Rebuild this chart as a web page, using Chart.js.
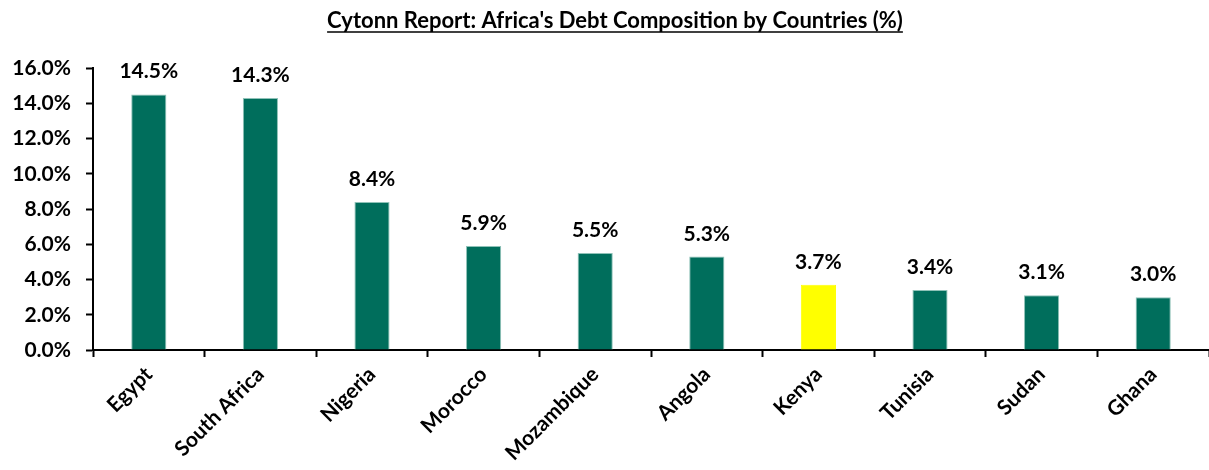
<!DOCTYPE html>
<html>
<head>
<meta charset="utf-8">
<script src="https://cdn.jsdelivr.net/npm/chart.js@4"></script>
<style>
  html, body { margin: 0; padding: 0; background: #ffffff; }
  #wrap { width: 1209px; height: 470px; position: relative; }
</style>
</head>
<body>
<div id="wrap"><canvas id="chart" width="1209" height="470"></canvas></div>
<script>
const chartTitle = "Cytonn Report: Africa's Debt Composition by Countries (%)";
const countries = ["Egypt", "South Africa", "Nigeria", "Morocco", "Mozambique", "Angola", "Kenya", "Tunisia", "Sudan", "Ghana"];
const debtShare = [14.5, 14.3, 8.4, 5.9, 5.5, 5.3, 3.7, 3.4, 3.1, 3.0];
const highlighted = "Kenya";

const FONT = "Lato, 'Open Sans', 'Liberation Sans', sans-serif";
const TEAL = "#006E5C";
const YELLOW = "#FFFF00";

// Underlined bold heading drawn across the top of the canvas
const headingPlugin = {
  id: "heading",
  afterDraw(chart) {
    const ctx = chart.ctx;
    ctx.save();
    ctx.font = "bold 22px " + FONT;
    ctx.fillStyle = "#000";
    ctx.textAlign = "center";
    ctx.textBaseline = "alphabetic";
    const cx = 615, base = 28;
    ctx.fillText(chartTitle, cx, base);
    const w = ctx.measureText(chartTitle).width;
    ctx.strokeStyle = "#000";
    ctx.lineWidth = 1.5;
    ctx.beginPath();
    ctx.moveTo(cx - w / 2, base + 4);
    ctx.lineTo(cx + w / 2, base + 4);
    ctx.stroke();
    ctx.restore();
  }
};

// Percentage value printed above each bar
const valueLabelPlugin = {
  id: "valueLabels",
  afterDatasetsDraw(chart) {
    const ctx = chart.ctx;
    const meta = chart.getDatasetMeta(0);
    ctx.save();
    ctx.font = "bold 21px " + FONT;
    ctx.fillStyle = "#000";
    ctx.textAlign = "center";
    ctx.textBaseline = "alphabetic";
    meta.data.forEach((bar, i) => {
      ctx.fillText(debtShare[i].toFixed(1) + "%", bar.x, bar.y - 16);
    });
    ctx.restore();
  }
};

new Chart(document.getElementById("chart"), {
  type: "bar",
  data: {
    labels: countries,
    datasets: [{
      data: debtShare,
      backgroundColor: countries.map(c => c === highlighted ? YELLOW : TEAL),
      borderColor: countries.map(c => c === highlighted ? YELLOW : "#8fc2b8"),
      borderWidth: 1,
      categoryPercentage: 1,
      barPercentage: 0.315
    }]
  },
  options: {
    responsive: false,
    animation: false,
    devicePixelRatio: 1,
    layout: { padding: { top: 68, right: 0, left: 0, bottom: 0 } },
    plugins: {
      legend: { display: false },
      title: { display: false },
      tooltip: { enabled: false }
    },
    scales: {
      x: {
        offset: true,
        grid: {
          display: true,
          offset: true,
          drawOnChartArea: false,
          drawTicks: true,
          tickLength: 7,
          tickColor: "#000",
          tickWidth: 2
        },
        border: { display: true, color: "#000", width: 2 },
        ticks: {
          color: "#000",
          font: { family: FONT, size: 21, weight: "bold" },
          minRotation: 45,
          maxRotation: 45,
          padding: 5,
          autoSkip: false
        },
        afterFit(scale) { scale.height = 120; }
      },
      y: {
        min: 0,
        max: 16,
        grid: {
          display: true,
          drawOnChartArea: false,
          drawTicks: true,
          tickLength: 7,
          tickColor: "#000",
          tickWidth: 2
        },
        border: { display: true, color: "#000", width: 2 },
        ticks: {
          stepSize: 2,
          color: "#000",
          padding: 15,
          font: { family: FONT, size: 21, weight: "bold" },
          callback: v => v.toFixed(1) + "%"
        },
        afterFit(scale) { scale.width = 93; }
      }
    }
  },
  plugins: [headingPlugin, valueLabelPlugin]
});
</script>
</body>
</html>
